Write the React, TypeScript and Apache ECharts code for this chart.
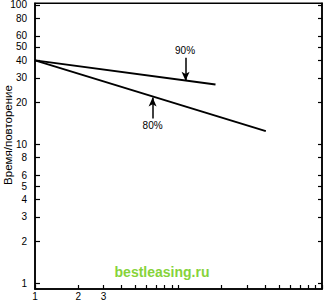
import React, { useEffect, useRef } from 'react';
import * as echarts from 'echarts';

const yLabelValues = [1, 2, 3, 4, 5, 6, 8, 10, 20, 30, 40, 50, 60, 80, 100];
const yTickValues = [1, 2, 3, 4, 5, 6, 8, 10, 20, 30, 40, 50, 60, 80, 100];
const xLabelValues = [1, 2, 3];
const xTickValues = [1, 2, 3, 4, 5, 6, 7, 8, 9, 10, 20, 30, 40, 50, 60, 70, 80, 90, 100];

const curve90: [number, number][] = [[1, 40], [18.1, 26.8]];
const curve80: [number, number][] = [[1, 40], [40.6, 12.4]];

const label90 = { text: '90%', at: [11.1, 46.8], arrowFrom: [11.2, 41.7], arrowTo: [11.2, 28.6] };
const label80 = { text: '80%', at: [6.6, 13.7], arrowFrom: [6.6, 15.3], arrowTo: [6.6, 21.6] };

const FONT = '"Liberation Sans", Arial, sans-serif';

export default function App() {
  const ref = useRef<HTMLDivElement>(null);
  useEffect(() => {
    if (!ref.current) return;
    const chart = echarts.init(ref.current, undefined, { renderer: 'svg' });
    const markFor = (l: typeof label90) => ({
      markLine: {
        silent: true,
        symbol: ['none', 'arrow'],
        symbolSize: [6, 9],
        label: { show: false },
        lineStyle: { color: '#000', width: 1.5, type: 'solid' },
        data: [[{ coord: l.arrowFrom }, { coord: l.arrowTo }]],
      },
      markPoint: {
        silent: true,
        symbol: 'rect',
        symbolSize: 1,
        itemStyle: { color: 'rgba(0,0,0,0)' },
        label: { show: true, position: 'inside', color: '#000', fontSize: 10, fontFamily: FONT, formatter: l.text },
        data: [{ coord: l.at }],
      },
    });
    chart.setOption({
      animation: false,
      backgroundColor: '#fff',
      grid: { left: 35, right: 2, top: 2, bottom: 11, show: true, borderColor: '#000', borderWidth: 1.5, backgroundColor: 'transparent' },
      xAxis: [
        {
          type: 'log',
          min: 1,
          max: 100,
          axisLine: { show: true, lineStyle: { color: '#000', width: 1.5 } },
          axisTick: { show: true, inside: true, length: 4, customValues: xTickValues, lineStyle: { color: '#000', width: 1.2 } },
          axisLabel: { show: true, customValues: xLabelValues, color: '#000', fontSize: 10, fontFamily: FONT, margin: 2 },
          splitLine: { show: false },
          minorTick: { show: false },
        },
      ],
      yAxis: [
        {
          type: 'log',
          min: 0.91,
          max: 103,
          axisLine: { show: true, lineStyle: { color: '#000', width: 1.5 } },
          axisTick: { show: true, inside: true, length: 5, customValues: yTickValues, lineStyle: { color: '#000', width: 1.2 } },
          axisLabel: { show: true, customValues: yLabelValues, color: '#000', fontSize: 10, fontFamily: FONT, margin: 8 },
          splitLine: { show: false },
        },
        {
          type: 'log',
          position: 'right',
          min: 0.91,
          max: 103,
          axisLine: { show: true, lineStyle: { color: '#000', width: 1.5 } },
          axisTick: { show: true, inside: true, length: 4, customValues: yTickValues, lineStyle: { color: '#000', width: 1.2 } },
          axisLabel: { show: false },
          splitLine: { show: false },
        },
      ],
      graphic: [
        {
          type: 'text',
          x: 8,
          y: 135,
          rotation: Math.PI / 2,
          style: { text: 'Время/повторение', fill: '#000', font: '11.5px ' + FONT, align: 'center', verticalAlign: 'middle' },
        },
        {
          type: 'text',
          x: 162,
          y: 272,
          style: { text: 'bestleasing.ru', fill: '#86d33a', font: 'bold 14px ' + FONT, align: 'center', verticalAlign: 'middle' },
        },
      ],
      series: [
        {
          type: 'line',
          data: curve90,
          symbol: 'none',
          lineStyle: { color: '#000', width: 2 },
          ...markFor(label90),
        },
        {
          type: 'line',
          data: curve80,
          symbol: 'none',
          lineStyle: { color: '#000', width: 2 },
          ...markFor(label80),
        },
      ],
    });
    return () => chart.dispose();
  }, []);
  return <div ref={ref} style={{ width: 324, height: 301, position: 'absolute', left: 0, top: 0 }} />;
}
